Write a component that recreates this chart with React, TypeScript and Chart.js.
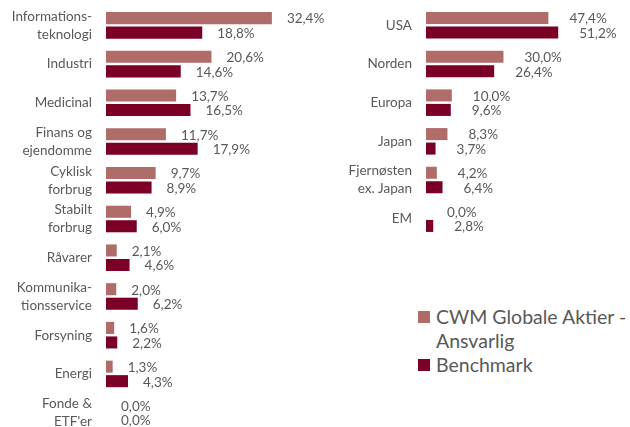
import React, { useEffect, useRef } from "react";
import { Chart, registerables } from "chart.js";

Chart.register(...registerables);

const sectorLabels: (string | string[])[] = [
  ["Informations-", "teknologi"],
  "Industri",
  "Medicinal",
  ["Finans og", "ejendomme"],
  ["Cyklisk", "forbrug"],
  ["Stabilt", "forbrug"],
  "Råvarer",
  ["Kommunika-", "tionsservice"],
  "Forsyning",
  "Energi",
  ["Fonde &", "ETF'er"],
];
const sectorFund = [32.4, 20.6, 13.7, 11.7, 9.7, 4.9, 2.1, 2.0, 1.6, 1.3, 0.0];
const sectorBench = [18.8, 14.6, 16.5, 17.9, 8.9, 6.0, 4.6, 6.2, 2.2, 4.3, 0.0];

const regionLabels: (string | string[])[] = [
  "USA",
  "Norden",
  "Europa",
  "Japan",
  ["Fjernøsten", "ex. Japan"],
  "EM",
];
const regionFund = [47.4, 30.0, 10.0, 8.3, 4.2, 0.0];
const regionBench = [51.2, 26.4, 9.6, 3.7, 6.4, 2.8];

const seriesNames = ["CWM Globale Aktier - Ansvarlig", "Benchmark"];

const FUND_COLOR = "#B06C68";
const BENCH_COLOR = "#7A0026";
const TEXT_COLOR = "#595959";
const FONT_FAMILY = "Lato, 'Open Sans', sans-serif";

function makeLabelPlugin(offset: number) {
  return {
    id: "valueLabels",
    afterDatasetsDraw(chart: any) {
      const ctx = chart.ctx;
      ctx.save();
      ctx.font = `13.5px ${FONT_FAMILY}`;
      ctx.fillStyle = TEXT_COLOR;
      ctx.textAlign = "left";
      ctx.textBaseline = "middle";
      chart.data.datasets.forEach((ds: any, di: number) => {
        const meta = chart.getDatasetMeta(di);
        meta.data.forEach((el: any, i: number) => {
          const v = ds.data[i] as number;
          const txt = v.toFixed(1).replace(".", ",") + "%";
          ctx.fillText(txt, el.x + offset, el.y + 1);
        });
      });
      ctx.restore();
    },
  };
}

function BarChart(props: {
  labels: (string | string[])[];
  fund: number[];
  bench: number[];
  max: number;
  width: number;
  height: number;
  offset: number;
  left: number;
}) {
  const ref = useRef<HTMLCanvasElement | null>(null);
  useEffect(() => {
    if (!ref.current) return;
    const chart = new Chart(ref.current, {
      type: "bar",
      data: {
        labels: props.labels as any,
        datasets: [
          {
            label: seriesNames[0],
            data: props.fund,
            backgroundColor: FUND_COLOR,
            categoryPercentage: 0.75,
            barPercentage: 0.83,
          },
          {
            label: seriesNames[1],
            data: props.bench,
            backgroundColor: BENCH_COLOR,
            categoryPercentage: 0.75,
            barPercentage: 0.83,
          },
        ],
      },
      options: {
        indexAxis: "y",
        responsive: false,
        animation: false,
        devicePixelRatio: 1,
        layout: { padding: { top: 6, left: 0, right: 0, bottom: 0 } },
        plugins: {
          legend: { display: false },
          tooltip: { enabled: false },
        },
        scales: {
          x: { display: false, min: 0, max: props.max },
          y: {
            grid: { display: false, drawTicks: false },
            border: { display: false },
            ticks: {
              autoSkip: false,
              padding: 14,
              color: TEXT_COLOR,
              font: { family: FONT_FAMILY, size: 13.5, lineHeight: 1.35 },
            },
            afterFit(scale: any) {
              scale.width = 106;
              scale.paddingTop = 0;
              scale.paddingBottom = 0;
            },
          },
        },
      },
      plugins: [makeLabelPlugin(props.offset)],
    } as any);
    return () => chart.destroy();
  }, []);
  return (
    <canvas
      ref={ref}
      width={props.width}
      height={props.height}
      style={{
        position: "absolute",
        left: props.left,
        top: 0,
        width: props.width,
        height: props.height,
      }}
    />
  );
}

export default function App() {
  return (
    <div
      style={{
        position: "fixed",
        left: 0,
        top: 0,
        width: 630,
        height: 427,
        overflow: "hidden",
        background: "#ffffff",
      }}
    >
      <BarChart
        labels={sectorLabels}
        fund={sectorFund}
        bench={sectorBench}
        max={43.75}
        width={330}
        height={432}
        offset={15}
        left={0}
      />
      <BarChart
        labels={regionLabels}
        fund={regionFund}
        bench={regionBench}
        max={79}
        width={310}
        height={238}
        offset={21}
        left={320}
      />
      <div
        style={{
          position: "absolute",
          left: 418,
          top: 305,
          fontFamily: FONT_FAMILY,
          fontSize: 19.5,
          lineHeight: "24px",
          color: TEXT_COLOR,
          whiteSpace: "nowrap",
        }}
      >
        <div style={{ position: "relative", paddingLeft: 18 }}>
          <span
            style={{
              position: "absolute",
              left: 0,
              top: 6,
              width: 12,
              height: 12,
              background: FUND_COLOR,
            }}
          />
          <div>CWM Globale Aktier -</div>
          <div>Ansvarlig</div>
        </div>
        <div style={{ position: "relative", paddingLeft: 18 }}>
          <span
            style={{
              position: "absolute",
              left: 0,
              top: 6,
              width: 12,
              height: 12,
              background: BENCH_COLOR,
            }}
          />
          <div>{seriesNames[1]}</div>
        </div>
      </div>
    </div>
  );
}
